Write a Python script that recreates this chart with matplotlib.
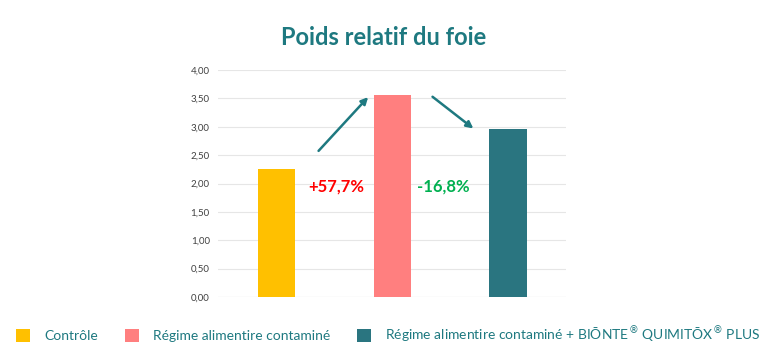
import matplotlib
matplotlib.use("Agg")
import matplotlib.pyplot as plt
from matplotlib.patches import Patch

categories = ["Contrôle", "Régime alimentire contaminé",
              r"Régime alimentire contaminé + BIŌNTE$^{\circledR}$ QUIMITŌX$^{\circledR}$ PLUS"]
values = [2.26, 3.56, 2.96]
colors = ["#FFC000", "#FF7F7F", "#2A7580"]
changes = ["+57,7%", "-16,8%"]
change_colors = ["#FF0000", "#00B050"]
yticks = [0, 0.5, 1, 1.5, 2, 2.5, 3, 3.5, 4]

teal = "#1E7980"
plt.rcParams["font.family"] = ["Lato", "DejaVu Sans"]

fig = plt.figure(figsize=(7.68, 3.54), dpi=100)
ax = fig.add_axes([0.284, 0.161, 0.453, 0.641])

x = list(range(len(values)))
ax.bar(x, values, width=0.32, color=colors, zorder=3)
ax.set_xlim(-0.5, 2.5)
ax.set_ylim(0, 4)
ax.set_yticks(yticks)
ax.set_yticklabels([f"{v:.2f}".replace(".", ",") for v in yticks],
                   fontsize=7, color="#404040")
ax.set_xticks([])
ax.yaxis.grid(True, color="#E6E6E6", linewidth=0.8, zorder=0)
ax.tick_params(axis="y", length=0, pad=6)
for s in ax.spines.values():
    s.set_visible(False)
ax.axhline(0, color="#D9D9D9", linewidth=0.8, zorder=2)

# arrows between the bars
arrow_kw = dict(arrowstyle="-|>", color=teal, lw=1.8, mutation_scale=10)
ax.annotate("", xy=(0.81, 3.56), xytext=(0.35, 2.54), arrowprops=arrow_kw)
ax.annotate("", xy=(1.72, 2.94), xytext=(1.33, 3.56), arrowprops=arrow_kw)

ax.text(0.52, 1.94, changes[0], color=change_colors[0], fontsize=12,
        fontweight="bold", ha="center", va="center")
ax.text(1.44, 1.94, changes[1], color=change_colors[1], fontsize=12,
        fontweight="bold", ha="center", va="center")

fig.text(0.5, 0.895, "Poids relatif du foie", ha="center", va="center",
         fontsize=17, fontweight="bold", color=teal)

handles = [Patch(facecolor=c, edgecolor="none") for c in colors]
fig.legend(handles, categories, loc="lower left", bbox_to_anchor=(0.005, -0.01),
           ncol=3, frameon=False, fontsize=10, labelcolor=teal,
           handlelength=1.0, handleheight=1.0, handletextpad=1.0,
           columnspacing=1.95)

fig.savefig("out.png", dpi=100)
